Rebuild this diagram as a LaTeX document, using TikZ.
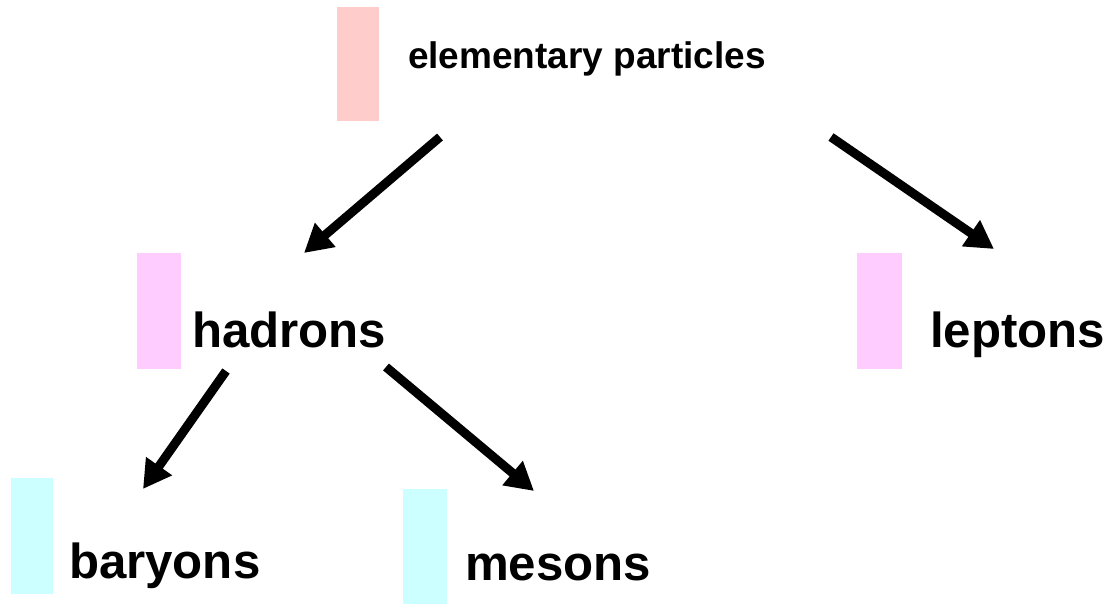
\documentclass[tikz,border=0pt]{standalone}
\usepackage{fontspec}
\setmainfont{Liberation Sans}
\usetikzlibrary{arrows.meta}
\definecolor{topred}{HTML}{FFCCCC}
\definecolor{midpink}{HTML}{FFCCFF}
\definecolor{lowcyan}{HTML}{CCFFFF}
\tikzset{
  lbl/.style={anchor=base west, inner sep=0pt, outer sep=0pt, font=\fontsize{49.2}{58}\selectfont\bfseries},
  toplbl/.style={anchor=base west, inner sep=0pt, outer sep=0pt, font=\fontsize{37}{44}\selectfont\bfseries},
  arr/.style={line width=9pt, -{Triangle[length=28pt,width=30pt]}, black}
}
\begin{document}
\begin{tikzpicture}[x=1pt,y=-1pt]
\useasboundingbox (0,0) rectangle (1112,604);
% colour bars
\fill[topred]  (337,7)   rectangle (379,121);
\fill[midpink] (137,253) rectangle (181,369);
\fill[midpink] (857,253) rectangle (902,369);
\fill[lowcyan] (11,478)  rectangle (53,594);
\fill[lowcyan] (403,489) rectangle (447,604);
% labels
\node[toplbl] (ep) at (408,69) {elementary particles};
\node[lbl] (had) at (192,348) {hadrons};
\node[lbl] (lep) at (930,348) {leptons};
\node[lbl] (bar) at (69,578) {baryons};
\node[lbl] (mes) at (465,580) {mesons};
% connector ends
\coordinate (a1s) at (440,137);
\coordinate (a1e) at (304,253);
\coordinate (a2s) at (831,137);
\coordinate (a2e) at (994,249);
\coordinate (a3s) at (226,371);
\coordinate (a3e) at (143,489);
\coordinate (a4s) at (386,367);
\coordinate (a4e) at (534,491);
\draw[arr] (a1s) -- (a1e);
\draw[arr] (a2s) -- (a2e);
\draw[arr] (a3s) -- (a3e);
\draw[arr] (a4s) -- (a4e);
\end{tikzpicture}
\end{document}
